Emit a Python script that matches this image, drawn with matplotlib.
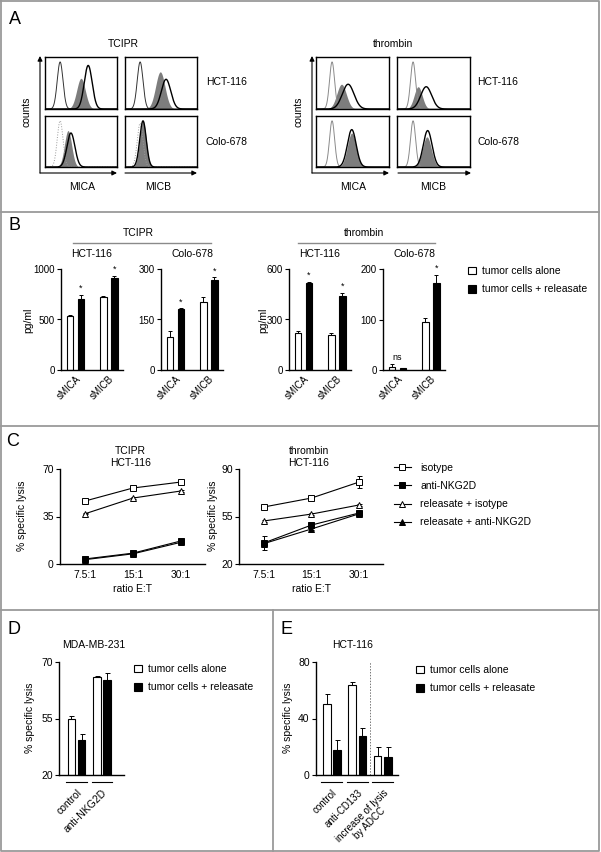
import numpy as np
import matplotlib
matplotlib.use('Agg')
import matplotlib.pyplot as plt
from matplotlib.patches import Patch, FancyArrowPatch
from matplotlib.lines import Line2D
import matplotlib.transforms as mtransforms

W, H = 601, 852
plt.rcParams['font.family'] = ['Liberation Sans', 'DejaVu Sans']
plt.rcParams['font.size'] = 7.5

# ---------------- DATA ----------------
# Panel A: flow-cytometry histograms, order:
# TCIPR HCT MICA, TCIPR HCT MICB, TCIPR Colo MICA, TCIPR Colo MICB,
# thrombin HCT MICA, thrombin HCT MICB, thrombin Colo MICA, thrombin Colo MICB
a_iso_center = [0.21, 0.21, 0.21, 0.21, 0.22, 0.22, 0.22, 0.22]
a_iso_sd = [0.040, 0.040, 0.040, 0.040, 0.035, 0.035, 0.035, 0.035]
a_iso_height = [0.95, 0.95, 0.95, 0.90, 0.95, 0.95, 0.95, 0.95]
a_iso_color = ['#333333', '#333333', '#9a9a9a', '#9a9a9a', '#8a8a8a', '#8a8a8a', '#8a8a8a', '#8a8a8a']
a_alone_center = [0.50, 0.49, 0.32, 0.25, 0.35, 0.29, 0.49, 0.41]
a_alone_sd = [0.060, 0.065, 0.050, 0.045, 0.065, 0.055, 0.060, 0.060]
a_alone_height = [0.62, 0.75, 0.75, 0.95, 0.50, 0.45, 0.70, 0.62]
a_rel_center = [0.60, 0.57, 0.36, 0.25, 0.44, 0.40, 0.49, 0.42]
a_rel_sd = [0.055, 0.065, 0.055, 0.045, 0.080, 0.075, 0.060, 0.060]
a_rel_height = [0.88, 0.60, 0.70, 0.95, 0.50, 0.45, 0.77, 0.75]
a_rows = ['HCT-116', 'Colo-678']
a_markers = ['MICA', 'MICB']
a_treatments = ['TCIPR', 'thrombin']

# Panel B: soluble MICA / MICB (pg/ml)
b_groups = ['sMICA', 'sMICB']
b_cells = ['HCT-116', 'Colo-678', 'HCT-116', 'Colo-678']
b_alone = [[535, 723], [98, 202], [220, 208], [6, 96]]
b_alone_err = [[6, 6], [17, 14], [12, 12], [6, 6]]
b_rel = [[703, 911], [181, 267], [517, 440], [3, 172]]
b_rel_err = [[40, 20], [2, 8], [5, 18], [1, 16]]
b_ymax = [1000, 300, 600, 200]
b_yticks = [[0, 500, 1000], [0, 150, 300], [0, 300, 600], [0, 100, 200]]
b_sig = [['*', '*'], ['*', '*'], ['*', '*'], ['ns', '*']]

# Panel C: % specific lysis vs E:T ratio
c_ratios = ['7.5:1', '15:1', '30:1']
c_labels = ['isotype', 'anti-NKG2D', 'releasate + isotype', 'releasate + anti-NKG2D']
c_tcipr = [[46.4, 56.0, 60.4], [3.7, 8.0, 17.0], [37.0, 48.6, 53.8], [3.2, 7.5, 16.0]]
c_tcipr_err = [[0.8, 0.8, 1.0], [0.5, 0.5, 1.0], [0.5, 0.8, 0.8], [0.5, 0.5, 1.0]]
c_thr = [[62.0, 68.6, 80.4], [35.5, 48.7, 57.6], [51.7, 56.8, 63.5], [35.0, 45.8, 57.0]]
c_thr_err = [[1.0, 1.0, 4.5], [5.0, 1.5, 1.0], [0.8, 0.8, 0.8], [1.0, 1.0, 1.0]]
c_yticks = [[0, 35, 70], [20, 55, 90]]

# Panel D: MDA-MB-231
d_groups = ['control', 'anti-NKG2D']
d_alone = [54.8, 66.0]
d_alone_err = [0.8, 0.3]
d_rel = [41.6, 65.1]
d_rel_err = [3.7, 2.1]
d_yticks = [20, 55, 70]

# Panel E: HCT-116
e_groups = ['control', 'anti-CD133', 'increase of lysis\nby ADCC']
e_alone = [50.5, 63.9, 13.4]
e_alone_err = [7.0, 2.1, 6.6]
e_rel = [17.6, 27.5, 12.9]
e_rel_err = [7.4, 6.1, 7.0]
e_yticks = [0, 40, 80]

legend_bars = ['tumor cells alone', 'tumor cells + releasate']

# ---------------- FIGURE ----------------
fig = plt.figure(figsize=(W / 100, H / 100), dpi=100)


def axpx(x0, y0, x1, y1):
    return fig.add_axes([x0 / W, 1 - y1 / H, (x1 - x0) / W, (y1 - y0) / H])


def fx(x):
    return x / W


def fy(y):
    return 1 - y / H


def ftext(x, y, s, **kw):
    fig.text(fx(x), fy(y), s, **kw)


def fline(xs, ys, **kw):
    fig.add_artist(Line2D([fx(v) for v in xs], [fy(v) for v in ys], **kw))


GRAY = '#9a9a9a'
# panel frame
fline([1, 599, 599, 1, 1], [1, 1, 851, 851, 1], color=GRAY, lw=1.3)
fline([1, 599], [212, 212], color=GRAY, lw=1.3)
fline([1, 599], [426, 426], color=GRAY, lw=1.3)
fline([1, 599], [610, 610], color=GRAY, lw=1.3)
fline([273, 273], [610, 851], color=GRAY, lw=1.3)

for letter, (x, y) in zip('ABCDE', [(15, 20), (14, 225), (13, 441), (14, 630), (286, 630)]):
    ftext(x, y, letter, fontsize=13, ha='center', va='center')

# ---------------- Panel A ----------------
xs = np.linspace(0, 1, 400)


def gauss(c, s, h):
    return h * np.exp(-0.5 * ((xs - c) / s) ** 2)


box_x = [[(45, 117), (125, 197)], [(316, 389), (397, 470)]]
box_y = [(57, 109), (116, 167)]
k = 0
for t in range(2):
    for r in range(2):
        for m in range(2):
            x0, x1 = box_x[t][m]
            y0, y1 = box_y[r]
            ax = axpx(x0, y0, x1, y1)
            ls = ':' if a_iso_color[k] == '#9a9a9a' else '-'
            ax.fill_between(xs, 0, gauss(a_alone_center[k], a_alone_sd[k], a_alone_height[k]),
                            color='#7d7d7d', lw=0)
            ax.plot(xs, gauss(a_iso_center[k], a_iso_sd[k], a_iso_height[k]),
                    color=a_iso_color[k], lw=0.7, ls=ls)
            ax.plot(xs, gauss(a_rel_center[k], a_rel_sd[k], a_rel_height[k]),
                    color='black', lw=1.0)
            ax.set_xlim(0, 1)
            ax.set_ylim(0, 1.05)
            ax.set_xticks([])
            ax.set_yticks([])
            for sp in ax.spines.values():
                sp.set_linewidth(1.0)
            k += 1

arrow_kw = dict(transform=fig.transFigure, arrowstyle='-|>', mutation_scale=7,
                lw=0.8, color='black', shrinkA=0, shrinkB=0)
for vx, (h1a, h1b), (h2a, h2b), cx, title, tx, m1x, m2x, rowx in [
        (40, (40, 117), (125, 197), 27, 'TCIPR', 123, 82, 158, 206),
        (312, (312, 389), (398, 471), 298, 'thrombin', 393, 353, 433, 477)]:
    fig.add_artist(FancyArrowPatch((fx(vx), fy(173)), (fx(vx), fy(56)), **arrow_kw))
    fig.add_artist(FancyArrowPatch((fx(h1a), fy(173)), (fx(h1b), fy(173)), **arrow_kw))
    fig.add_artist(FancyArrowPatch((fx(h2a), fy(173)), (fx(h2b), fy(173)), **arrow_kw))
    ftext(cx, 112, 'counts', rotation=90, ha='center', va='center')
    ftext(tx, 44, title, ha='center', va='center')
    ftext(m1x, 187, a_markers[0], ha='center', va='center')
    ftext(m2x, 187, a_markers[1], ha='center', va='center')
    ftext(rowx, 82, a_rows[0], ha='left', va='center')
    ftext(rowx, 142, a_rows[1], ha='left', va='center')

# ---------------- Panel B ----------------
b_left = [61, 161, 289, 383]
xb = np.arange(len(b_groups))
off, bw = 0.165, 0.2
shift = mtransforms.ScaledTranslation(4 / 100, 0, fig.dpi_scale_trans)
for i in range(4):
    ax = axpx(b_left[i], 269, b_left[i] + 62, 370)
    ax.bar(xb - off, b_alone[i], bw, color='white', edgecolor='black', lw=0.8,
           yerr=[np.zeros(2), b_alone_err[i]], error_kw=dict(lw=0.7, capsize=1.5, capthick=0.7))
    ax.bar(xb + off, b_rel[i], bw, color='black', edgecolor='black', lw=0.8,
           yerr=[np.zeros(2), b_rel_err[i]], error_kw=dict(lw=0.7, capsize=1.5, capthick=0.7))
    for j in range(2):
        if b_sig[i][j] == '*':
            ax.annotate('*', (xb[j] + off, b_rel[i][j] + b_rel_err[i][j]), xytext=(0, 1.5),
                        textcoords='offset points', ha='center', va='bottom', fontsize=6.5)
        else:
            top = max(b_alone[i][j] + b_alone_err[i][j], b_rel[i][j] + b_rel_err[i][j])
            ax.annotate(b_sig[i][j], (xb[j], top), xytext=(0, 1.5),
                        textcoords='offset points', ha='center', va='bottom', fontsize=6.5)
    ax.set_xlim(-0.43, 1.43)
    ax.set_ylim(0, b_ymax[i])
    ax.set_yticks(b_yticks[i])
    ax.set_xticks(xb)
    ax.set_xticklabels(b_groups, rotation=45, ha='right', va='top', rotation_mode='anchor')
    for lab in ax.get_xticklabels():
        lab.set_transform(lab.get_transform() + shift)
    ax.tick_params(axis='x', length=0, pad=3, labelsize=7)
    ax.tick_params(axis='y', length=3, width=0.8, pad=1.5, labelsize=7)
    for s in ['top', 'right']:
        ax.spines[s].set_visible(False)
    for s in ['left', 'bottom']:
        ax.spines[s].set_linewidth(1.0)
    ftext(b_left[i] + 31, 254, b_cells[i], ha='center', va='center')

ftext(28, 320, 'pg/ml', rotation=90, ha='center', va='center')
ftext(263, 320, 'pg/ml', rotation=90, ha='center', va='center')
ftext(138, 233, a_treatments[0], ha='center', va='center')
ftext(364, 233, a_treatments[1], ha='center', va='center')
fline([73, 211], [243, 243], color='#8a8a8a', lw=1.0)
fline([298, 435], [243, 243], color='#8a8a8a', lw=1.0)

bar_handles = [Patch(facecolor='white', edgecolor='black', lw=0.8),
               Patch(facecolor='black', edgecolor='black', lw=0.8)]
leg_kw = dict(frameon=False, handlelength=0.75, handleheight=0.75, handletextpad=0.55,
              labelspacing=0.8, borderpad=0, borderaxespad=0, loc='upper left')
fig.legend(bar_handles, legend_bars, bbox_to_anchor=(fx(468), fy(266)), **leg_kw)

# ---------------- Panel C ----------------
xc = np.arange(len(c_ratios))
styles = [dict(marker='s', mfc='white'), dict(marker='s', mfc='black'),
          dict(marker='^', mfc='white'), dict(marker='^', mfc='black')]


def msize(st):
    return 4.8 if st['marker'] == 's' else 5.0


for p, (data, errs, x0, x1, ttl) in enumerate([
        (c_tcipr, c_tcipr_err, 60, 205, 'TCIPR\nHCT-116'),
        (c_thr, c_thr_err, 239, 383, 'thrombin\nHCT-116')]):
    ax = axpx(x0, 469, x1, 564)
    for s in [0, 2, 1, 3]:
        st = styles[s]
        ax.errorbar(xc, data[s], yerr=errs[s], color='black', lw=0.8, marker=st['marker'],
                    mfc=st['mfc'], mec='black', mew=0.7, ms=msize(st),
                    elinewidth=0.7, capsize=1.8, capthick=0.7)
    ax.set_xlim(-0.52, 2.5)
    ax.set_ylim(c_yticks[p][0], c_yticks[p][-1])
    ax.set_yticks(c_yticks[p])
    ax.set_xticks(xc)
    ax.set_xticklabels(c_ratios)
    ax.tick_params(axis='x', length=0, pad=4, labelsize=7.5)
    ax.tick_params(axis='y', length=3, width=0.8, pad=1.5, labelsize=7.5)
    ax.set_xlabel('ratio E:T', labelpad=3)
    for s in ['top', 'right']:
        ax.spines[s].set_visible(False)
    for s in ['left', 'bottom']:
        ax.spines[s].set_linewidth(1.0)
    ftext((x0 + x1) / 2 - 2, 457, ttl, ha='center', va='center', linespacing=1.25)

ftext(22, 516, '% specific lysis', rotation=90, ha='center', va='center')
ftext(213, 516, '% specific lysis', rotation=90, ha='center', va='center')
c_handles = [Line2D([], [], color='black', lw=0.8, marker=st['marker'], mfc=st['mfc'],
                    mec='black', mew=0.7, ms=msize(st)) for st in styles]
fig.legend(c_handles, c_labels, frameon=False, loc='upper left',
           bbox_to_anchor=(fx(394), fy(463)), handlelength=1.6, handletextpad=0.9,
           labelspacing=0.78, borderpad=0, borderaxespad=0)


# ---------------- Panel D ----------------
def fwd(v):
    v = np.asarray(v, dtype=float)
    return np.where(v < 55, (v - 20) / 35.0, 1 + (v - 55) / 15.0)


def inv(u):
    u = np.asarray(u, dtype=float)
    return np.where(u < 1, 20 + 35.0 * u, 55 + 15.0 * (u - 1))


def group_bars(ax, alone, aerr, rel, rerr, groups, bottom, lsize):
    x = np.arange(len(groups))
    o, w = 0.2, 0.3
    ax.bar(x - o, np.array(alone) - bottom, w, bottom=bottom, color='white', edgecolor='black',
           lw=0.8, yerr=[np.zeros(len(x)), aerr],
           error_kw=dict(lw=0.7, capsize=1.8, capthick=0.7))
    ax.bar(x + o, np.array(rel) - bottom, w, bottom=bottom, color='black', edgecolor='black',
           lw=0.8, yerr=[np.zeros(len(x)), rerr],
           error_kw=dict(lw=0.7, capsize=1.8, capthick=0.7))
    trans = mtransforms.blended_transform_factory(ax.transData, ax.transAxes)
    for xi in x:
        ax.plot([xi - 0.41, xi + 0.41], [-0.062, -0.062], color='black', lw=0.8,
                transform=trans, clip_on=False)
    ax.set_xticks(x)
    ax.set_xticklabels(groups, rotation=45, ha='right', va='top', rotation_mode='anchor',
                       multialignment='center')
    ax.tick_params(axis='x', length=0, pad=9, labelsize=lsize)
    ax.tick_params(axis='y', length=3, width=0.8, pad=1.5, labelsize=7.5)
    for s in ['top', 'right']:
        ax.spines[s].set_visible(False)
    for s in ['left', 'bottom']:
        ax.spines[s].set_linewidth(1.0)


axd = axpx(59, 662, 124, 775)
axd.set_yscale('function', functions=(fwd, inv))
group_bars(axd, d_alone, d_alone_err, d_rel, d_rel_err, d_groups, 20, 7.5)
axd.set_ylim(20, 70)
axd.set_yticks(d_yticks)
axd.set_yticklabels([str(v) for v in d_yticks])
axd.yaxis.set_minor_locator(matplotlib.ticker.NullLocator())
axd.set_xlim(-0.69, 1.87)
ftext(94, 645, 'MDA-MB-231', ha='center', va='center')
ftext(30, 718, '% specific lysis', rotation=90, ha='center', va='center')
fig.legend(bar_handles, legend_bars, bbox_to_anchor=(fx(134), fy(664)), **leg_kw)

# ---------------- Panel E ----------------
axe = axpx(316, 662, 398, 775)
group_bars(axe, e_alone, e_alone_err, e_rel, e_rel_err, e_groups, 0, 7)
axe.set_ylim(0, 80)
axe.set_yticks(e_yticks)
axe.set_xlim(-0.62, 2.6)
axe.axvline(1.5, ls=(0, (1.5, 1.5)), color='#777777', lw=0.7)
ftext(353, 645, 'HCT-116', ha='center', va='center')
ftext(288, 718, '% specific lysis', rotation=90, ha='center', va='center')
fig.legend(bar_handles, legend_bars, bbox_to_anchor=(fx(416), fy(665)), **leg_kw)

fig.savefig('out.png', dpi=100)
